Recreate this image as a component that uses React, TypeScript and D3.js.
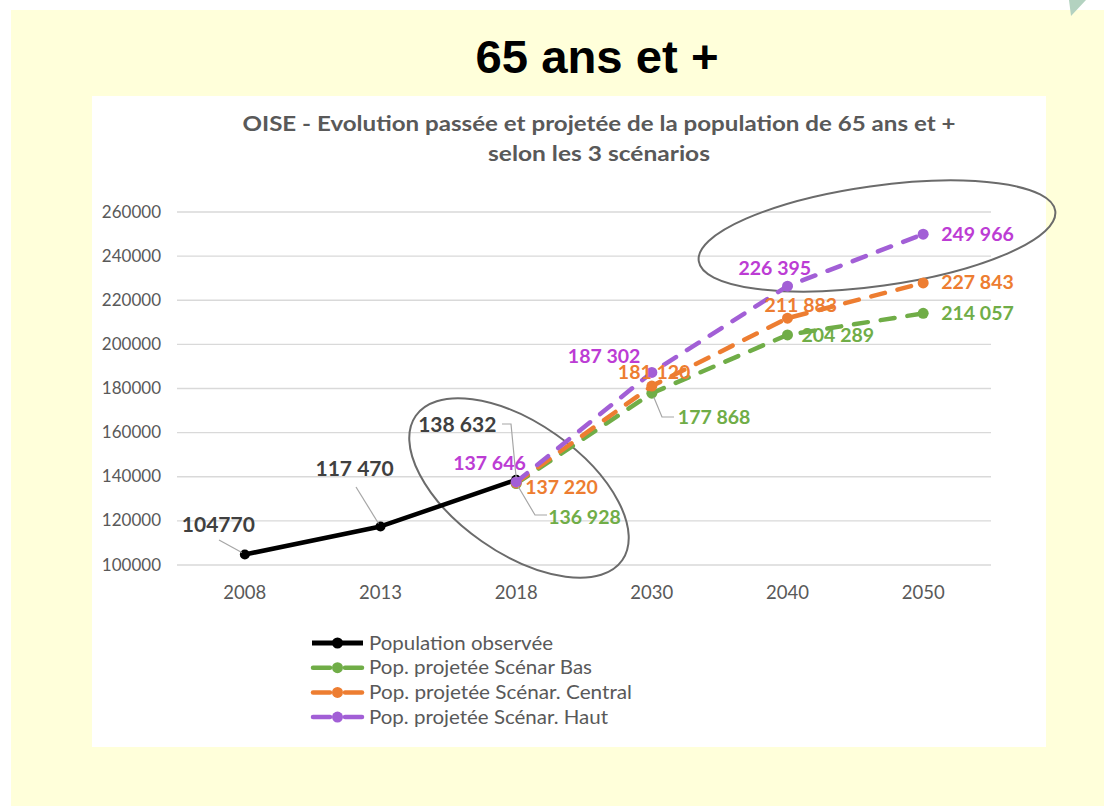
import React, { useEffect } from "react";
import * as d3 from "d3";

const years = ["2008", "2013", "2018", "2030", "2040", "2050"];
const yTicks = [100000, 120000, 140000, 160000, 180000, 200000, 220000, 240000, 260000];

const observedYears = ["2008", "2013", "2018"];
const observedValues = [104770, 117470, 138632];
const observedLabels = ["104770", "117 470", "138 632"];

const projYears = ["2018", "2030", "2040", "2050"];
const basValues = [136928, 177868, 204289, 214057];
const centralValues = [137220, 181120, 211883, 227843];
const hautValues = [137646, 187302, 226395, 249966];
const basLabels = ["136 928", "177 868", "204 289", "214 057"];
const centralLabels = ["137 220", "181 120", "211 883", "227 843"];
const hautLabels = ["137 646", "187 302", "226 395", "249 966"];

const seriesNames = [
  "Population observée",
  "Pop. projetée Scénar Bas",
  "Pop. projetée Scénar. Central",
  "Pop. projetée Scénar. Haut",
];

// layout: label offsets relative to each point (text start x, baseline y)
const obsLabelOffsets = [[-63, -22], [-65, -50], [-98, -48]];
const basLabelOffsets = [[32, 40], [26, 31], [14, 7], [18, 7]];
const centralLabelOffsets = [[9, 11], [-34, -7], [-23, -6], [18, 6]];
const hautLabelOffsets = [[-63, -12], [-84, -9], [-49, -11], [18, 7]];
const legendWidths = [184, 223, 263, 239];

const GREEN = "#70AD47";
const ORANGE = "#ED7D31";
const PURPLE = "#A25FD6";
const PURPLE_TXT = "#BC3CD4";
const GRAY = "#595959";
const FONT = "Lato, 'Open Sans', sans-serif";

export default function App() {
  useEffect(() => {
    document.body.style.margin = "0";
  }, []);

  const x = d3.scaleBand<string>().domain(years).range([177, 991]).padding(0);
  const cx = (yr: string) => (x(yr) as number) + x.bandwidth() / 2;
  const y = d3.scaleLinear().domain([100000, 260000]).range([565, 212]);

  const line = d3
    .line<[string, number]>()
    .x((d) => cx(d[0]))
    .y((d) => y(d[1]));

  const obsPts: [string, number][] = observedYears.map((yr, i) => [yr, observedValues[i]]);
  const proj = [
    { vals: basValues, labels: basLabels, color: GREEN, txt: GREEN, offs: basLabelOffsets },
    { vals: centralValues, labels: centralLabels, color: ORANGE, txt: ORANGE, offs: centralLabelOffsets },
    { vals: hautValues, labels: hautLabels, color: PURPLE, txt: PURPLE_TXT, offs: hautLabelOffsets },
  ];

  const legendColors = ["#000000", GREEN, ORANGE, PURPLE];

  const p2008 = [cx("2008"), y(observedValues[0])];
  const p2013 = [cx("2013"), y(observedValues[1])];
  const p2018 = [cx("2018"), y(observedValues[2])];
  const pb2018 = [cx("2018"), y(basValues[0])];
  const pb2030 = [cx("2030"), y(basValues[1])];

  const ellipse1 = { cx: 519, cy: 488, rx: 126, ry: 65, rot: 35 };
  const ellipse2 = { cx: 877, cy: 236, rx: 180, ry: 50, rot: -8 };

  return (
    <svg width={1104} height={806} style={{ position: "absolute", left: 0, top: 0, display: "block" }}>
      <rect x={0} y={0} width={1104} height={806} fill="#ffffff" />
      <rect x={11} y={10} width={1093} height={796} fill="#FFFFDA" />
      <polygon points="1069,0 1086,0 1071,16" fill="#B3D2C0" />
      <rect x={92} y={96} width={954} height={651} fill="#ffffff" />

      <text x={597} y={73} textAnchor="middle" fontFamily="'Liberation Sans', Arial, sans-serif" fontWeight="bold" fontSize={47} fill="#000" textLength={243} lengthAdjust="spacingAndGlyphs">
        65 ans et +
      </text>

      <text x={599} y={131} textAnchor="middle" fontFamily={FONT} fontWeight="bold" fontSize={21} fill={GRAY} textLength={713} lengthAdjust="spacingAndGlyphs">
        OISE - Evolution passée et projetée de la population de 65 ans et +
      </text>
      <text x={599} y={161} textAnchor="middle" fontFamily={FONT} fontWeight="bold" fontSize={21} fill={GRAY} textLength={222} lengthAdjust="spacingAndGlyphs">
        selon les 3 scénarios
      </text>

      {yTicks.map((t) => (
        <g key={t}>
          <line x1={177} x2={991} y1={y(t)} y2={y(t)} stroke="#D9D9D9" strokeWidth={1.3} />
          <text x={161} y={y(t) + 5.5} textAnchor="end" fontFamily={FONT} fontSize={17} fill={GRAY}>
            {t}
          </text>
        </g>
      ))}
      {years.map((yr) => (
        <text key={yr} x={cx(yr)} y={599} textAnchor="middle" fontFamily={FONT} fontSize={18.5} fill={GRAY}>
          {yr}
        </text>
      ))}

      <ellipse cx={ellipse1.cx} cy={ellipse1.cy} rx={ellipse1.rx} ry={ellipse1.ry} transform={`rotate(${ellipse1.rot} ${ellipse1.cx} ${ellipse1.cy})`} fill="none" stroke="#6B6B6B" strokeWidth={2} />
      <ellipse cx={ellipse2.cx} cy={ellipse2.cy} rx={ellipse2.rx} ry={ellipse2.ry} transform={`rotate(${ellipse2.rot} ${ellipse2.cx} ${ellipse2.cy})`} fill="none" stroke="#6B6B6B" strokeWidth={2} />

      <path d={line(obsPts) || ""} fill="none" stroke="#000" strokeWidth={4.5} strokeLinejoin="round" />
      {obsPts.map((d, i) => (
        <circle key={i} cx={cx(d[0])} cy={y(d[1])} r={5} fill="#000" />
      ))}

      {proj.map((s, si) => {
        const pts: [string, number][] = projYears.map((yr, i) => [yr, s.vals[i]]);
        return (
          <g key={si}>
            <path d={line(pts) || ""} fill="none" stroke={s.color} strokeWidth={4.5} strokeDasharray="14 13" strokeLinecap="round" />
            {pts.map((d, i) => (
              <circle key={i} cx={cx(d[0])} cy={y(d[1])} r={5.5} fill={s.color} />
            ))}
          </g>
        );
      })}

      <g stroke="#A6A6A6" strokeWidth={1.2} fill="none">
        <polyline points={`219,540 ${p2008[0] - 3},${p2008[1] - 2}`} />
        <polyline points={`356,487 ${p2013[0] - 2},${p2013[1] - 3}`} />
        <polyline points={`502,424 511,424 ${p2018[0]},${p2018[1] - 2}`} />
        <polyline points={`${pb2018[0] + 2},${pb2018[1] + 3} 535,515 547,515`} />
        <polyline points={`${pb2030[0] + 2},${pb2030[1] + 4} 662,417 674,417`} />
      </g>

      {obsPts.map((d, i) => (
        <text key={i} x={cx(d[0]) + obsLabelOffsets[i][0]} y={y(d[1]) + obsLabelOffsets[i][1]} fontFamily={FONT} fontWeight="bold" fontSize={21} fill="#404040">
          {observedLabels[i]}
        </text>
      ))}
      {proj.map((s, si) =>
        projYears.map((yr, i) => (
          <text key={`${si}-${i}`} x={cx(yr) + s.offs[i][0]} y={y(s.vals[i]) + s.offs[i][1]} fontFamily={FONT} fontWeight="bold" fontSize={19.5} fill={s.txt}>
            {s.labels[i]}
          </text>
        ))
      )}

      {seriesNames.map((n, i) => {
        const ly = 643 + i * 24.7;
        return (
          <g key={n}>
            {i === 0 ? (
              <line x1={312} x2={363} y1={ly} y2={ly} stroke="#000" strokeWidth={5} />
            ) : (
              <g>
                <line x1={313} x2={330} y1={ly} y2={ly} stroke={legendColors[i]} strokeWidth={4.5} strokeLinecap="round" />
                <line x1={345} x2={362} y1={ly} y2={ly} stroke={legendColors[i]} strokeWidth={4.5} strokeLinecap="round" />
              </g>
            )}
            <circle cx={337.5} cy={ly} r={5.5} fill={legendColors[i]} />
            <text x={369} y={ly + 6.5} fontFamily={FONT} fontSize={20} fill={GRAY} textLength={legendWidths[i]} lengthAdjust="spacingAndGlyphs">
              {n}
            </text>
          </g>
        );
      })}
    </svg>
  );
}
